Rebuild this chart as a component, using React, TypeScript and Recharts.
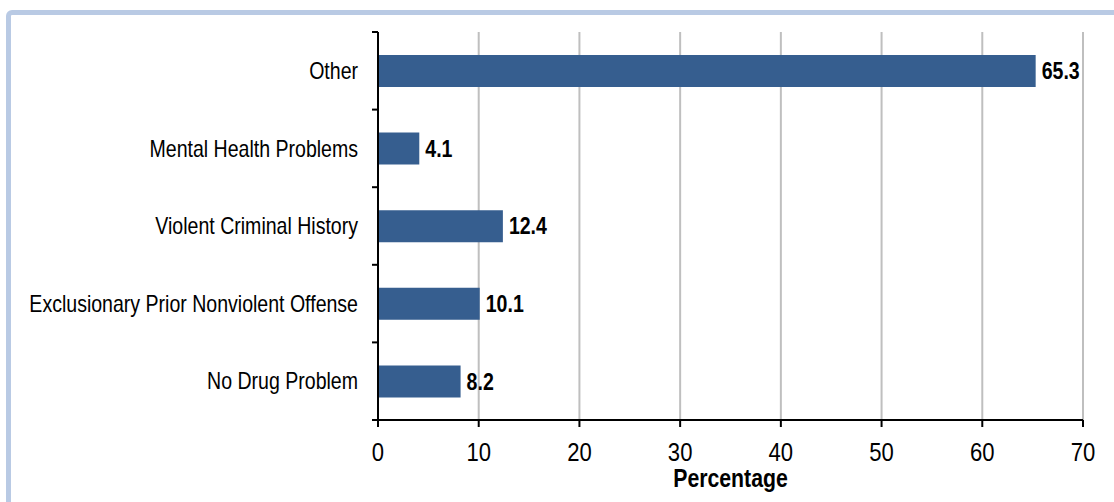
import React from "react";
import { BarChart, Bar, XAxis, YAxis, CartesianGrid, LabelList } from "recharts";

const categories = [
  "Other",
  "Mental Health Problems",
  "Violent Criminal History",
  "Exclusionary Prior Nonviolent Offense",
  "No Drug Problem",
];
const percentages = [65.3, 4.1, 12.4, 10.1, 8.2];
const xTicks = [0, 10, 20, 30, 40, 50, 60, 70];

const data = categories.map((c, i) => ({ category: c, value: percentages[i] }));

const FONT = "'Liberation Sans', Arial, sans-serif";
const NARROW = 0.85;
const HALF_BAND = (420 - 32) / categories.length / 2;

const YTick = (props: any) => {
  const { x, y, payload, index } = props;
  const axisX = x + 20;
  return (
    <g>
      <line x1={axisX - 6} x2={axisX} y1={y - HALF_BAND} y2={y - HALF_BAND} stroke="#000" strokeWidth={2} />
      {index === categories.length - 1 && (
        <line x1={axisX - 6} x2={axisX} y1={y + HALF_BAND} y2={y + HALF_BAND} stroke="#000" strokeWidth={2} />
      )}
      <text
        transform={`translate(${x},${y}) scale(${NARROW},1)`}
        x={0}
        y={0}
        dy="0.36em"
        textAnchor="end"
        fontFamily={FONT}
        fontSize={23}
        fill="#000"
      >
        {payload.value}
      </text>
    </g>
  );
};

const XTick = (props: any) => {
  const { x, y, payload } = props;
  return (
    <text
      transform={`translate(${x},${y}) scale(${NARROW},1)`}
      x={0}
      y={0}
      dy="0.71em"
      textAnchor="middle"
      fontFamily={FONT}
      fontSize={26}
      fill="#000"
    >
      {payload.value}
    </text>
  );
};

const XLabel = (props: any) => {
  const vb = props.viewBox || {};
  const cx = vb.x + vb.width / 2;
  const by = vb.y + vb.height - 15;
  return (
    <text
      transform={`translate(${cx},${by}) scale(${NARROW},1)`}
      x={0}
      y={0}
      textAnchor="middle"
      fontFamily={FONT}
      fontSize={25}
      fontWeight="bold"
      fill="#000"
    >
      Percentage
    </text>
  );
};

const ValueLabel = (props: any) => {
  const { x, y, width, height, value } = props;
  const lx = Number(x) + Number(width) + 6;
  const ly = Number(y) + Number(height) / 2;
  return (
    <text
      transform={`translate(${lx},${ly}) scale(${NARROW},1)`}
      x={0}
      y={0}
      dy="0.36em"
      textAnchor="start"
      fontFamily={FONT}
      fontSize={23}
      fontWeight="bold"
      fill="#000"
    >
      {value}
    </text>
  );
};

export default function App() {
  return (
    <div style={{ position: "fixed", left: 0, top: 0, width: 1114, height: 502, overflow: "hidden", background: "#fff" }}>
      <div
        style={{
          position: "absolute",
          left: 6,
          top: 10,
          width: 1130,
          height: 520,
          border: "5px solid #B9CAE4",
          borderRadius: 6,
          boxSizing: "border-box",
        }}
      />
      <div style={{ position: "absolute", left: 0, top: 0 }}>
        <BarChart
          width={1114}
          height={502}
          data={data}
          layout="vertical"
          margin={{ top: 32, right: 31, left: 0, bottom: 0 }}
          barSize={32}
        >
          <CartesianGrid horizontal={false} vertical={true} stroke="#BFBFBF" strokeWidth={2} />
          <XAxis
            type="number"
            domain={[0, 70]}
            ticks={xTicks}
            interval={0}
            height={82}
            tickSize={7}
            tickMargin={16}
            axisLine={{ stroke: "#000", strokeWidth: 2 }}
            tickLine={{ stroke: "#000", strokeWidth: 2 }}
            tick={<XTick />}
            label={<XLabel />}
          />
          <YAxis
            type="category"
            dataKey="category"
            width={378}
            tickLine={false}
            tickSize={0}
            tickMargin={20}
            axisLine={{ stroke: "#000", strokeWidth: 2 }}
            tick={<YTick />}
            interval={0}
          />
          <Bar dataKey="value" fill="#365E8F" isAnimationActive={false}>
            <LabelList dataKey="value" content={<ValueLabel />} />
          </Bar>
        </BarChart>
      </div>
    </div>
  );
}
